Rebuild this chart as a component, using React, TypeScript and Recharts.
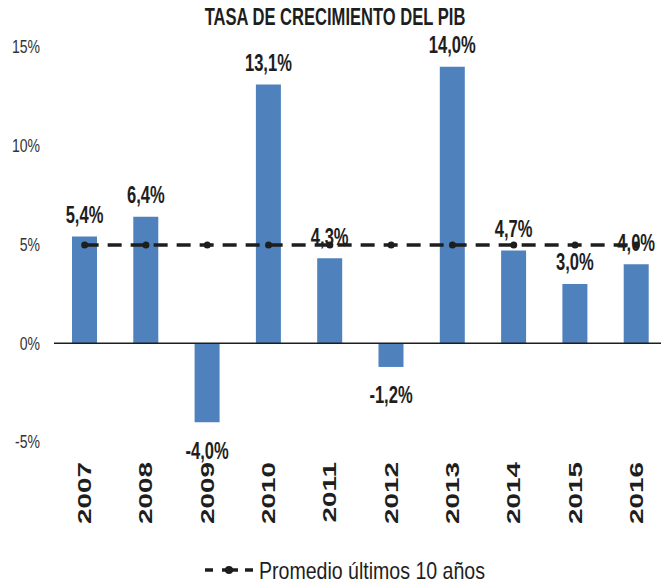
import React from 'react'
import { ComposedChart, Bar, Line, XAxis, YAxis, ReferenceLine, LabelList } from 'recharts'

const years = ['2007', '2008', '2009', '2010', '2011', '2012', '2013', '2014', '2015', '2016']
const growth = [5.4, 6.4, -4.0, 13.1, 4.3, -1.2, 14.0, 4.7, 3.0, 4.0]
const average = [4.97, 4.97, 4.97, 4.97, 4.97, 4.97, 4.97, 4.97, 4.97, 4.97]
const yTicks = [-5, 0, 5, 10, 15]

const data = years.map((y, i) => ({ year: y, growth: growth[i], avg: average[i] }))

const sans = '"Liberation Sans", Arial, sans-serif'
const blue = '#4F81BD'
const ink = '#1e1e1e'

function fmt(v: number) {
  return `${v.toFixed(1).replace('.', ',')}%`
}

// Excel-like condensed text: regular Arial squeezed horizontally
function BarLabel(props: any) {
  const { x, y, width, height, value } = props
  const top = Math.min(y, y + height)
  const bottom = Math.max(y, y + height)
  const cy = value >= 0 ? top - 22 : bottom + 28
  return (
    <g transform={`translate(${x + width / 2},${cy}) scale(0.72,1)`}>
      <text textAnchor="middle" dy="0.36em" fontFamily={sans} fontWeight="bold" fontSize={23} fill={ink}>
        {fmt(value)}
      </text>
    </g>
  )
}

function PctTick(props: any) {
  const { x, y, payload } = props
  return (
    <g transform={`translate(${x},${y}) scale(0.78,1)`}>
      <text textAnchor="end" dy="0.36em" fontFamily={sans} fontSize={18} fill="#333">
        {`${payload.value}%`}
      </text>
    </g>
  )
}

function YearTick(props: any) {
  const { x, y, payload } = props
  return (
    <g transform={`translate(${x},${y + 20}) rotate(-90) scale(1.55,1)`}>
      <text textAnchor="end" dy="0.36em" fontFamily={sans} fontWeight="bold" fontSize={18} fill={ink}>
        {payload.value}
      </text>
    </g>
  )
}

function LegendBox() {
  return (
    <svg width={661} height={26} style={{ position: 'absolute', left: 0, top: 557 }}>
      <line x1={205} y1={13} x2={254} y2={13} stroke={ink} strokeWidth={3.5} strokeDasharray="8 12" />
      <line x1={222} y1={13} x2={238} y2={13} stroke={ink} strokeWidth={3.5} />
      <circle cx={229} cy={13} r={4} fill={ink} />
      <g transform="translate(259,13) scale(0.815,1)">
        <text dy="0.36em" fontFamily={sans} fontSize={24} fill={ink}>Promedio últimos 10 años</text>
      </g>
    </svg>
  )
}

export default function App() {
  return (
    <div style={{ position: 'absolute', left: 0, top: 0, width: 661, height: 585, overflow: 'hidden', background: '#fff' }}>
      <div
        style={{
          position: 'absolute',
          left: 0,
          width: 670,
          top: 4,
          textAlign: 'center',
          fontFamily: sans,
          fontWeight: 'bold',
          fontSize: 23,
          color: ink,
          transform: 'scaleX(0.72)',
          transformOrigin: '335px 0',
          zIndex: 2,
        }}
      >
        TASA DE CRECIMIENTO DEL PIB
      </div>
      <ComposedChart width={667} height={585} data={data} margin={{ top: 47, right: 0, bottom: 0, left: 0 }}>
        <YAxis width={54} domain={[-5, 15]} ticks={yTicks} axisLine={false} tickLine={false} tickSize={0} tickMargin={14} tick={<PctTick />} />
        <XAxis dataKey="year" axisLine={false} tickLine={false} tickSize={0} tickMargin={0} height={143} tick={<YearTick />} interval={0} />
        <ReferenceLine y={0} stroke={ink} strokeWidth={1.5} />
        <Bar dataKey="growth" fill={blue} barSize={25} isAnimationActive={false}>
          <LabelList dataKey="growth" content={<BarLabel />} />
        </Bar>
        <Line
          dataKey="avg"
          type="linear"
          stroke={ink}
          strokeWidth={3.5}
          strokeDasharray="14 9"
          dot={{ r: 3.5, fill: ink, stroke: ink, strokeWidth: 0 }}
          isAnimationActive={false}
        />
      </ComposedChart>
      <LegendBox />
    </div>
  )
}
